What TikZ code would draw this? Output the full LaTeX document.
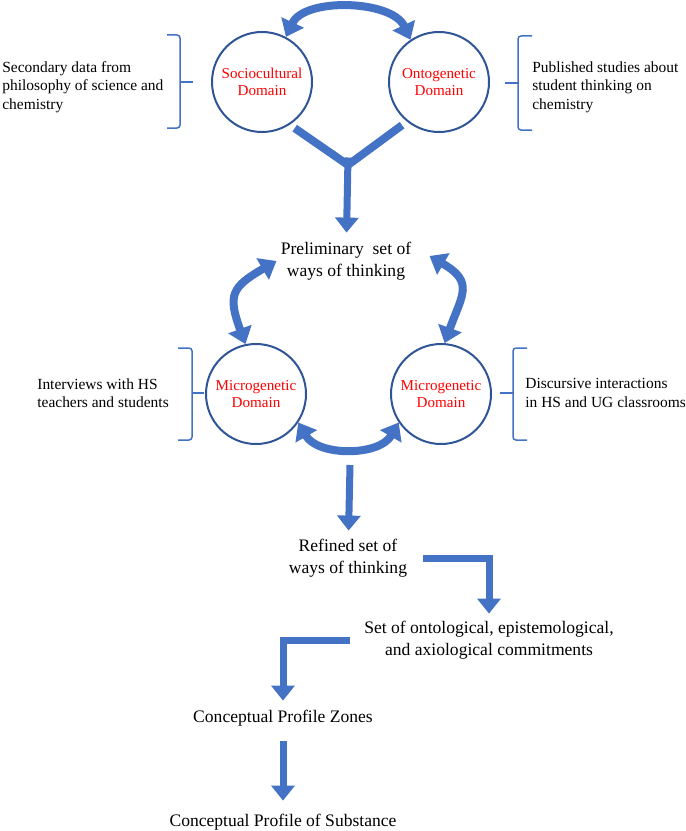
\documentclass[tikz,border=0pt]{standalone}
\usepackage{fontspec}
\setmainfont{Liberation Serif}
\newfontfamily\lserif{Liberation Serif}
\usetikzlibrary{arrows.meta, positioning, calc}
\definecolor{arrowblue}{HTML}{4472C4}
\definecolor{ringblue}{HTML}{2F5597}
\definecolor{domred}{HTML}{FF0000}

\begin{document}
\begin{tikzpicture}[
    x=0.2mm, y=0.2mm,
    dom/.style={draw=ringblue, line width=0.4mm, circle, minimum size=20mm, inner sep=0pt, align=center, text=domred, font=\lserif\fontsize{8.6}{10}\selectfont},
    lbl/.style={align=center, inner sep=0pt, font=\lserif\fontsize{10}{12.5}\selectfont},
    side/.style={align=left, inner sep=0pt, anchor=west, font=\lserif\fontsize{8.8}{10.5}\selectfont},
    arr/.style={-{Triangle[length=3mm, width=4.6mm]}, line width=1.4mm, arrowblue},
    darr/.style={{Triangle[length=3.2mm, width=4.8mm]}-{Triangle[length=3.2mm, width=4.8mm]}, line width=1.6mm, arrowblue},
    brk/.style={draw=arrowblue, line width=0.3mm, rounded corners=0.6mm},
]
\useasboundingbox (0,0) rectangle (685,-831);

% Nodes
\node[dom] (socio) at (262,-82) {Sociocultural\\Domain};
\node[dom, right=1.5cm of socio] (onto) {Ontogenetic\\Domain};
\node[lbl] (prelim) at (346,-261) {Preliminary\ \ set of\\ways of thinking};
\node[dom] (micL) at (256,-394) {Microgenetic\\Domain};
\node[dom, right=1.66cm of micL] (micR) {Microgenetic\\Domain};
\node[lbl] (refined) at (348,-558) {Refined set of\\ways of thinking};
\node[lbl] (commit) at (489,-640) {Set of ontological, epistemological,\\and axiological commitments};
\node[lbl] (zones) at (283,-718) {Conceptual Profile Zones};
\node[lbl] (subst) at (283,-822) {Conceptual Profile of Substance};

% Sources
\node[side] (secdata) at (2,-87) {Secondary data from\\philosophy of science and\\chemistry};
\node[side] (pubstud) at (532,-87) {Published studies about\\student thinking on\\chemistry};
\node[side] (interv) at (37,-393) {Interviews with HS\\teachers and students};
\node[side] (discur) at (525,-393) {Discursive interactions\\in HS and UG classrooms};

% Brackets
\draw[brk] (167,-35) -| (180,-82) |- (167,-128);
\draw[brk] (180,-82) -- (193,-82);
\draw[brk] (532,-36) -| (518,-83) |- (532,-130);
\draw[brk] (518,-83) -- (505,-83);
\draw[brk] (178,-348) -| (192,-393) |- (178,-440);
\draw[brk] (192,-393) -- (204,-393);
\draw[brk] (527,-348) -| (513,-393) |- (527,-440);
\draw[brk] (513,-393) -- (500,-393);

% Arrows
\coordinate (join) at (348,-165);
\coordinate (micout) at (350,-465);
\draw[darr] (socio.62) to[out=65, in=115, looseness=0.9] (onto.124);
\draw[arrowblue, line width=1.6mm, shorten <=1.2mm] (socio.-57) -- (join);
\draw[arrowblue, line width=1.6mm, shorten <=1.2mm] (onto.-129) -- (join);
\draw[arr, shorten >=1.8mm] ([yshift=1.5mm]join) -- (prelim);
\draw[darr] (micL.102) to[out=110, in=210, looseness=1.5] ([xshift=-0.8mm]prelim.west);
\draw[darr] (micR.86) to[out=70, in=-30, looseness=1.5] ([xshift=3.6mm, yshift=1mm]prelim.east);
\draw[darr] (micL.-34) to[out=-60, in=-120] (micR.-146);
\draw[arr, shorten >=1.6mm] (micout) -- (refined);
\draw[arr, shorten <=3.2mm, shorten >=1.4mm] (refined.east) -| (commit.north);
\draw[arr, shorten <=2.8mm, shorten >=1.8mm] (commit.west) -| (zones.north);
\draw[arr, shorten <=3mm, shorten >=2.6mm] (zones) -- (subst);

\end{tikzpicture}
\end{document}
